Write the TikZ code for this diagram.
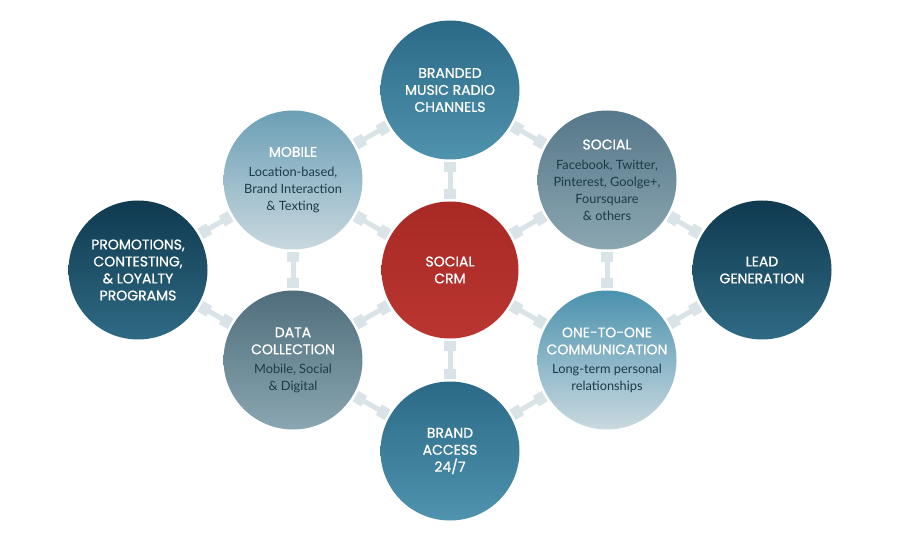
\documentclass[tikz,border=0pt]{standalone}
\usepackage{fontspec}
\setmainfont{Lato}
\newfontfamily\titlefont{Poppins}[FakeBold=0.8]
\usetikzlibrary{arrows.meta}
\definecolor{connc}{RGB}{218,227,232}
\definecolor{subc}{RGB}{29,58,72}
\definecolor{crmred}{RGB}{183,45,40}
\newcommand{\ttl}[1]{{\titlefont\fontsize{14}{17}\selectfont #1}}
\newcommand{\sbt}[1]{{\color{subc}\fontsize{12.8}{17}\selectfont #1}}
\begin{document}
\begin{tikzpicture}[x=1pt,y=1pt,
  bub/.style={circle, minimum size=139pt, inner sep=0pt, align=center, text=white,
    font=\fontsize{14}{17}\selectfont},
  conn/.style={draw=connc, line width=5pt,
    {Rectangle[width=12pt,length=10pt]}-{Rectangle[width=12pt,length=10pt]},
    shorten <=2.5pt, shorten >=2.5pt}
]
\useasboundingbox (0,0) rectangle (900,-548);
\fill[white] (0,0) rectangle (900,-548);

\node[bub, minimum size=137pt, top color=crmred!92!black, bottom color=crmred!96!white] (cr) at (450,-270)
  {\ttl{SOCIAL}\\\ttl{CRM}};
\node[bub, top color={rgb,255:red,43;green,106;blue,135}, bottom color={rgb,255:red,80;green,147;blue,173}] (brand) at (450,-90)
  {\ttl{BRANDED}\\\ttl{MUSIC RADIO}\\\ttl{CHANNELS}};
\node[bub, top color={rgb,255:red,107;green,159;blue,181}, bottom color={rgb,255:red,200;green,216;blue,223}] (mob) at (293,-180)
  {\ttl{MOBILE}\\[3pt]\sbt{Location-based,}\\\sbt{Brand Interaction}\\\sbt{\& Texting}};
\node[bub, top color={rgb,255:red,86;green,120;blue,138}, bottom color={rgb,255:red,139;green,166;blue,177}] (soc) at (607,-180)
  {\ttl{SOCIAL}\\[3pt]\sbt{Facebook, Twitter,}\\\sbt{Pinterest, Goolge+,}\\\sbt{Foursquare}\\\sbt{\& others}};
\node[bub, top color={rgb,255:red,15;green,58;blue,79}, bottom color={rgb,255:red,47;green,106;blue,132}] (promo) at (138,-270)
  {\ttl{PROMOTIONS,}\\\ttl{CONTESTING,}\\\ttl{\& LOYALTY}\\\ttl{PROGRAMS}};
\node[bub, top color={rgb,255:red,15;green,58;blue,79}, bottom color={rgb,255:red,47;green,106;blue,132}] (lead) at (762,-270)
  {\ttl{LEAD}\\\ttl{GENERATION}};
\node[bub, top color={rgb,255:red,79;green,109;blue,123}, bottom color={rgb,255:red,137;green,166;blue,177}] (data) at (293,-360)
  {\ttl{DATA}\\\ttl{COLLECTION}\\[2pt]\sbt{Mobile, Social}\\\sbt{\& Digital}};
\node[bub, top color={rgb,255:red,75;green,146;blue,174}, bottom color={rgb,255:red,202;green,217;blue,224}] (one) at (607,-360)
  {\ttl{ONE-TO-ONE}\\\ttl{COMMUNICATION}\\[2pt]\sbt{Long-term personal}\\\sbt{relationships}};
\node[bub, top color={rgb,255:red,43;green,106;blue,135}, bottom color={rgb,255:red,79;green,147;blue,174}] (access) at (450,-451)
  {\ttl{BRAND}\\\ttl{ACCESS}\\\ttl{24/7}};

\foreach \a/\b in {brand/mob, brand/soc, brand/cr, mob/cr, soc/cr, mob/data, soc/one,
  promo/mob, promo/data, lead/soc, lead/one, data/cr, one/cr, data/access, one/access, access/cr}
  \draw[conn] (\a) -- (\b);
\end{tikzpicture}
\end{document}
